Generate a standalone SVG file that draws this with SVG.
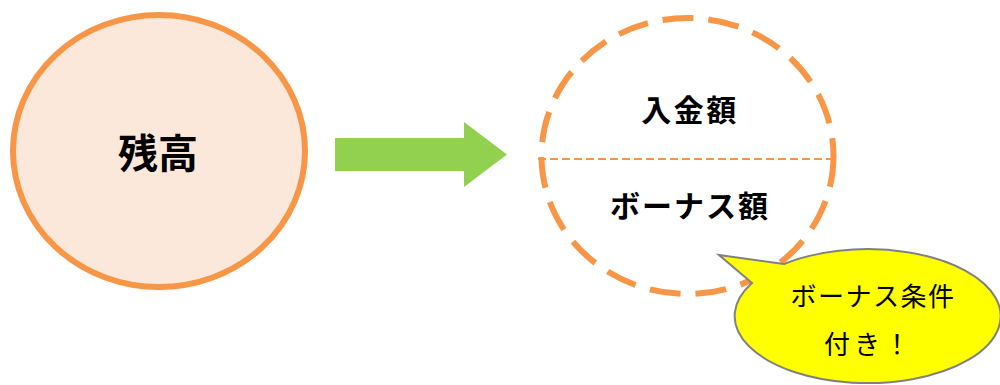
<svg xmlns="http://www.w3.org/2000/svg" width="1000" height="385" viewBox="0 0 1000 385">
<style>
.bold{font-family:"Noto Sans CJK JP","Noto Sans",sans-serif;font-weight:bold;fill:#000;text-anchor:middle;dominant-baseline:central}
.callt{font-family:"Liberation Serif","Noto Sans CJK JP",serif;font-weight:normal;fill:#000;text-anchor:middle;dominant-baseline:central}
</style>
<rect width="1000" height="385" fill="#fff"/>
<g id="balance">
<ellipse cx="159" cy="151" rx="146" ry="136" fill="#FCE8DA" stroke="#F79646" stroke-width="6"/>
<text class="bold" x="158" y="151" font-size="40">残高</text>
</g>
<g id="connectors">
<polygon points="335,138 464,138 464,122 507,154.5 464,187 464,171 335,171" fill="#92D050"/>
</g>
<g id="breakdown">
<ellipse cx="687.5" cy="156" rx="146" ry="138" fill="none" stroke="#F79646" stroke-width="6" stroke-dasharray="31,15"/>
<line x1="538" y1="159" x2="834" y2="159" stroke="#F79646" stroke-width="2" stroke-dasharray="8,4"/>
<text class="bold" x="690" y="108" font-size="30" letter-spacing="2.5">入金額</text>
<text class="bold" x="690" y="204" font-size="30" letter-spacing="2">ボーナス額</text>
</g>
<g id="callout">
<path d="M 784 264 L 719 255 L 752 283 A 133 67 0 1 0 784 264 Z" fill="#FFFF00" stroke="#808080" stroke-width="2"/>
<text class="callt" x="873" y="297" font-size="26" letter-spacing="1.5">ボーナス条件</text>
<text class="callt" x="869" y="345" font-size="26" letter-spacing="4">付き！</text>
</g>
</svg>
